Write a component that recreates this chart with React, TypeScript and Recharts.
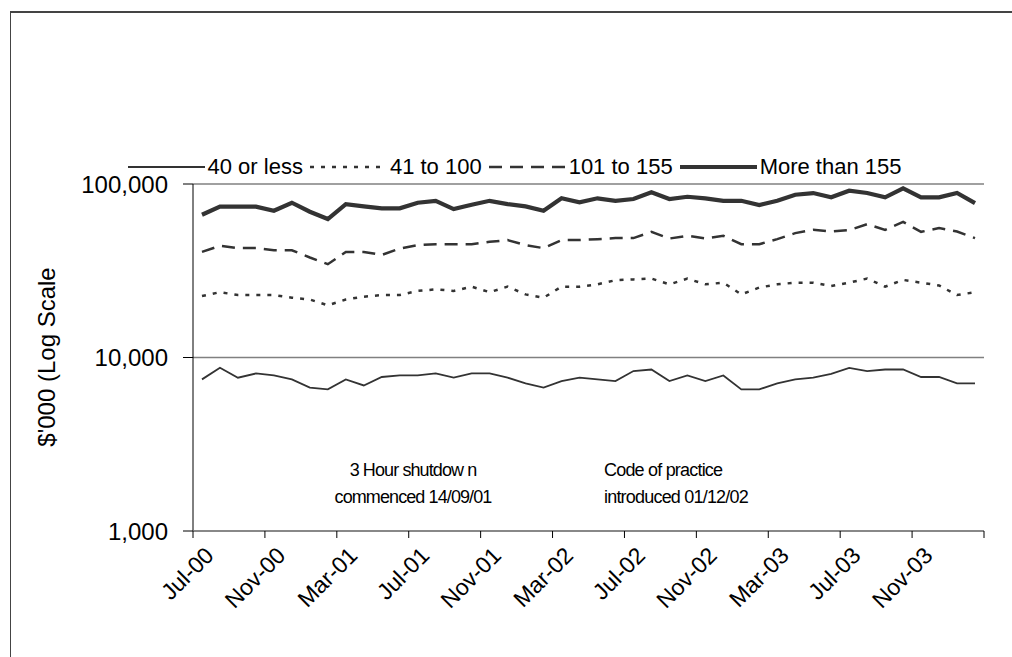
import { LineChart, Line, XAxis, YAxis, CartesianGrid, Legend } from "recharts";

const FONT = "'Liberation Sans', Arial, sans-serif";

// Jul-00 .. Feb-04, one point per month
const MONTHS = [
  "Jul-00", "Aug-00", "Sep-00", "Oct-00", "Nov-00", "Dec-00",
  "Jan-01", "Feb-01", "Mar-01", "Apr-01", "May-01", "Jun-01", "Jul-01", "Aug-01", "Sep-01", "Oct-01", "Nov-01", "Dec-01",
  "Jan-02", "Feb-02", "Mar-02", "Apr-02", "May-02", "Jun-02", "Jul-02", "Aug-02", "Sep-02", "Oct-02", "Nov-02", "Dec-02",
  "Jan-03", "Feb-03", "Mar-03", "Apr-03", "May-03", "Jun-03", "Jul-03", "Aug-03", "Sep-03", "Oct-03", "Nov-03", "Dec-03",
  "Jan-04", "Feb-04",
];

const LESS_40 = [
  7480, 8720, 7650, 8090, 7880, 7480, 6700, 6550, 7480, 6900,
  7720, 7880, 7880, 8090, 7650, 8090, 8090, 7650, 7090, 6700,
  7310, 7650, 7480, 7310, 8350, 8530, 7310, 7880, 7310, 7880,
  6550, 6550, 7090, 7480, 7650, 8050, 8720, 8350, 8530, 8530,
  7720, 7720, 7090, 7090,
];

const FROM_41_TO_100 = [
  22600, 23800, 22900, 22900, 22900, 22100, 21600, 20000, 21600, 22400,
  22900, 22900, 24200, 24700, 24200, 25600, 23800, 25600, 23100, 22100,
  25600, 25600, 26400, 27900, 28200, 28500, 26400, 28500, 26400, 27000,
  23100, 25300, 26400, 27000, 27000, 25800, 27000, 28500, 25600, 28000,
  27000, 26000, 22900, 23800,
];

const FROM_101_TO_155 = [
  40600, 44000, 42700, 42700, 41500, 41500, 37700, 34500, 40600, 40600,
  39000, 42500, 44400, 45000, 45000, 45000, 46400, 47500, 44400, 42700,
  47500, 47500, 48100, 48800, 48800, 53000, 48500, 50300, 48500, 50300,
  45000, 45000, 48100, 52100, 54400, 53200, 54200, 58700, 54400, 60500,
  53000, 55700, 53200, 48800,
];

const MORE_155 = [
  66500, 74000, 74000, 74000, 70100, 78000, 69200, 62800, 76600, 74300,
  72400, 72400, 78000, 80000, 71700, 75900, 80000, 76600, 74300, 70100,
  82700, 78400, 82700, 80000, 81900, 89500, 81900, 84400, 82700, 80000,
  80000, 75600, 80000, 86700, 88700, 83800, 91500, 88700, 83800, 94400,
  83800, 83800, 88700, 77600,
];

const Y_TICKS = [1000, 10000, 100000];
const LABEL_TICKS = [0, 4, 8, 12, 16, 20, 24, 28, 32, 36, 40];
const BOUNDARY_TICKS = [-0.5, 3.5, 7.5, 11.5, 15.5, 19.5, 23.5, 27.5, 31.5, 35.5, 39.5, 43.5];

const SERIES = [
  { key: "a", name: "40 or less", width: 1.8, dash: undefined },
  { key: "b", name: "41 to 100", width: 2.5, dash: "4 7" },
  { key: "c", name: "101 to 155", width: 2.5, dash: "13 8" },
  { key: "d", name: "More than 155", width: 4.2, dash: undefined },
];

const data = MONTHS.map((m, i) => ({
  i,
  month: m,
  a: LESS_40[i],
  b: FROM_41_TO_100[i],
  c: FROM_101_TO_155[i],
  d: MORE_155[i],
}));

const LINE = "#333";

function MonthTick(props: any) {
  const { x, y, payload } = props;
  const px = x + 13;
  const py = y + 18;
  return (
    <text
      x={px}
      y={py}
      textAnchor="end"
      transform={`rotate(-45 ${px} ${py})`}
      fontSize={23}
      fontFamily={FONT}
      fill="#000"
    >
      {MONTHS[payload.value]}
    </text>
  );
}

function NoLabel() {
  return <g />;
}

function LegendBox() {
  return (
    <div
      style={{
        height: 34,
        display: "flex",
        alignItems: "center",
        justifyContent: "center",
        fontFamily: FONT,
        fontSize: 22,
        color: "#000",
      }}
    >
      {SERIES.map((s) => (
        <div key={s.key} style={{ display: "flex", alignItems: "center", marginRight: 7 }}>
          <svg width={77} height={10}>
            <line x1={0} y1={5} x2={77} y2={5} stroke={LINE} strokeWidth={s.width} strokeDasharray={s.dash} />
          </svg>
          <span style={{ marginLeft: 3 }}>{s.name}</span>
        </div>
      ))}
    </div>
  );
}

export default function App() {
  return (
    <div style={{ position: "absolute", left: 0, top: 0, width: 1012, height: 657, background: "#fff", overflow: "hidden" }}>
      <div
        style={{
          position: "absolute",
          left: 10,
          top: 11,
          width: 1010,
          height: 660,
          borderTop: "2px solid #444",
          borderLeft: "1px solid #444",
        }}
      />
      <LineChart width={1012} height={657} data={data} margin={{ top: 150, right: 28, bottom: 0, left: 0 }}>
        <CartesianGrid horizontal vertical={false} stroke="#808080" strokeWidth={1.5} />
        <Legend verticalAlign="top" wrapperStyle={{ left: 24, width: 988 }} content={() => <LegendBox />} />
        <YAxis
          scale="log"
          domain={[1000, 100000]}
          ticks={Y_TICKS}
          allowDataOverflow
          width={193}
          tickFormatter={(v: number) => v.toLocaleString("en-US")}
          tick={{ fontSize: 24, fontFamily: FONT, fill: "#000" }}
          tickSize={10}
          tickMargin={15}
          axisLine={{ stroke: "#000" }}
          tickLine={{ stroke: "#000" }}
        />
        <XAxis
          xAxisId="b"
          type="number"
          dataKey="i"
          domain={[-0.5, 43.5]}
          ticks={BOUNDARY_TICKS}
          interval={0}
          tick={<NoLabel />}
          tickSize={7}
          height={8}
          axisLine={{ stroke: "#808080", strokeWidth: 1.5 }}
          tickLine={{ stroke: "#000" }}
        />
        <XAxis
          xAxisId="lab"
          type="number"
          dataKey="i"
          domain={[-0.5, 43.5]}
          ticks={LABEL_TICKS}
          axisLine={false}
          tickLine={false}
          tickSize={0}
          tickMargin={0}
          height={118}
          interval={0}
          tick={<MonthTick />}
        />
        {SERIES.map((s) => (
          <Line
            key={s.key}
            xAxisId="b"
            dataKey={s.key}
            name={s.name}
            stroke={LINE}
            strokeWidth={s.width}
            strokeDasharray={s.dash}
            dot={false}
            activeDot={false}
            isAnimationActive={false}
          />
        ))}
      </LineChart>
      <div
        style={{
          position: "absolute",
          left: 47,
          top: 357,
          transform: "translate(-50%, -50%) rotate(-90deg)",
          whiteSpace: "nowrap",
          fontFamily: FONT,
          fontSize: 24,
          color: "#000",
        }}
      >
        $'000 (Log Scale
      </div>
      <div
        style={{
          position: "absolute",
          left: 313,
          top: 457,
          width: 200,
          textAlign: "center",
          fontFamily: FONT,
          fontSize: 18,
          letterSpacing: -0.9,
          lineHeight: "27px",
          color: "#000",
        }}
      >
        3 Hour shutdow n
        <br />
        commenced 14/09/01
      </div>
      <div
        style={{
          position: "absolute",
          left: 604,
          top: 457,
          textAlign: "left",
          fontFamily: FONT,
          fontSize: 18,
          letterSpacing: -0.8,
          lineHeight: "27px",
          color: "#000",
        }}
      >
        Code of practice
        <br />
        introduced 01/12/02
      </div>
    </div>
  );
}
